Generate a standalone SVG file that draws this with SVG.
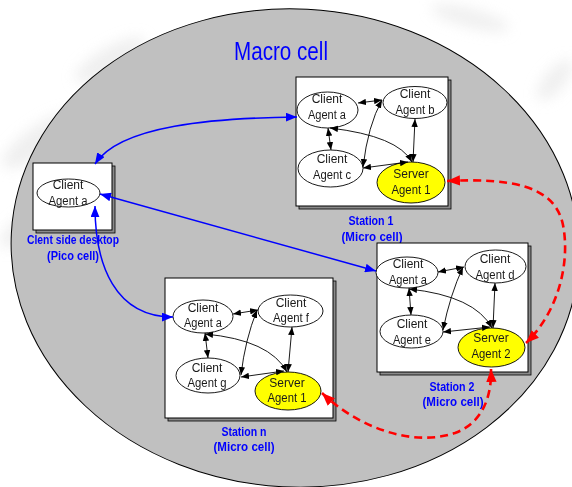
<svg xmlns="http://www.w3.org/2000/svg" width="572" height="487" viewBox="0 0 572 487">
  <style>
    .cell { fill: #c0c0c0; stroke: #000; stroke-width: 1; }
    .box { fill: #fff; stroke: #000; stroke-width: 1; }
    .side { fill: #8a8a8a; stroke: #000; stroke-width: 0.8; }
    .agent { fill: #fff; stroke: #000; stroke-width: 0.9; }
    .server { fill: #ffff00; stroke: #000; stroke-width: 0.9; }
    .t { font-family: "Liberation Sans", Arial, sans-serif; font-size: 12px; fill: #1a1a1a; text-anchor: middle; }
    .lbl { font-family: "Liberation Sans", Arial, sans-serif; font-size: 13px; font-weight: bold; fill: #0000ff; text-anchor: middle; }
    .title { font-family: "Liberation Sans", Arial, sans-serif; font-size: 25px; fill: #0000ff; text-anchor: middle; }
    .link { fill: none; stroke: #000; stroke-width: 0.9; marker-start: url(#ahk); marker-end: url(#ahk); }
    .net { fill: none; stroke: #0000ff; stroke-width: 1.5; marker-start: url(#ahb); marker-end: url(#ahb); }
    .sync { fill: none; stroke: #ff0000; stroke-width: 2.6; stroke-dasharray: 8 5; marker-start: url(#ahr); marker-end: url(#ahr); }
  </style>
  <defs>
    <marker id="ahk" viewBox="0 0 10 8" refX="10" refY="4" markerWidth="8" markerHeight="7" markerUnits="userSpaceOnUse" orient="auto-start-reverse">
      <path d="M0,0 L10,4 L0,8 z" fill="#000"/>
    </marker>
    <marker id="ahb" viewBox="0 0 10 8" refX="10" refY="4" markerWidth="11" markerHeight="9" markerUnits="userSpaceOnUse" orient="auto-start-reverse">
      <path d="M0,0 L10,4 L0,8 z" fill="#0000ff"/>
    </marker>
    <marker id="ahr" viewBox="0 0 10 8" refX="10" refY="4" markerWidth="13" markerHeight="11" markerUnits="userSpaceOnUse" orient="auto-start-reverse">
      <path d="M0,0 L10,4 L0,8 z" fill="#ff0000"/>
    </marker>
    <filter id="soft" x="-50%" y="-50%" width="200%" height="200%">
      <feGaussianBlur stdDeviation="7"/>
    </filter>
  </defs>

  <!-- page background with faint smudges -->
  <rect x="0" y="0" width="572" height="487" fill="#fff"/>
  <g filter="url(#soft)" fill="#e4e4e4" opacity="0.6">
    <ellipse cx="40" cy="140" rx="45" ry="14" transform="rotate(-35 40 140)"/>
    <ellipse cx="110" cy="60" rx="40" ry="12" transform="rotate(-30 110 60)"/>
    <ellipse cx="20" cy="230" rx="25" ry="10" transform="rotate(-40 20 230)"/>
    <ellipse cx="470" cy="18" rx="40" ry="9" transform="rotate(15 470 18)"/>
    <ellipse cx="555" cy="80" rx="25" ry="10" transform="rotate(-50 555 80)"/>
  </g>

  <!-- macro cell -->
  <g id="macro-cell">
    <ellipse class="cell" cx="295" cy="248" rx="284" ry="239" transform="rotate(3 295 248)"/>
    <text class="title" x="281" y="60" textLength="94" lengthAdjust="spacingAndGlyphs">Macro cell</text>
  </g>

  <!-- pico cell: client side desktop -->
  <g id="pico-cell">
    <rect class="side" x="36" y="166" width="79" height="67"/>
    <rect class="box" x="33" y="163" width="79" height="67"/>
    <text class="lbl" x="73" y="244" textLength="92" lengthAdjust="spacingAndGlyphs">Clent side desktop</text>
    <text class="lbl" x="73" y="260" textLength="52" lengthAdjust="spacingAndGlyphs">(Pico cell)</text>
  </g>
  <g id="pico-client-a">
    <ellipse class="agent" cx="68.5" cy="193" rx="31.5" ry="14"/>
    <text class="t" x="68" y="189">Client</text>
    <text class="t" x="68" y="205" textLength="39" lengthAdjust="spacingAndGlyphs">Agent a</text>
  </g>

  <!-- station 1 -->
  <g id="station-1">
    <rect class="side" x="299" y="80" width="152" height="129"/>
    <rect class="box" x="296" y="77" width="152" height="129"/>
    <text class="lbl" x="371" y="225" textLength="45" lengthAdjust="spacingAndGlyphs">Station 1</text>
    <text class="lbl" x="372" y="241" textLength="61" lengthAdjust="spacingAndGlyphs">(Micro cell)</text>
  </g>
  <g id="s1-client-a">
    <ellipse class="agent" cx="327.5" cy="110" rx="30.5" ry="18"/>
    <text class="t" x="327" y="103">Client</text>
    <text class="t" x="327" y="119" textLength="38" lengthAdjust="spacingAndGlyphs">Agent a</text>
  </g>
  <g id="s1-client-b">
    <ellipse class="agent" cx="415" cy="102.5" rx="32" ry="16"/>
    <text class="t" x="415" y="98">Client</text>
    <text class="t" x="415" y="114" textLength="39" lengthAdjust="spacingAndGlyphs">Agent b</text>
  </g>
  <g id="s1-client-c">
    <ellipse class="agent" cx="330.5" cy="168.5" rx="32.5" ry="18.5"/>
    <text class="t" x="332" y="163">Client</text>
    <text class="t" x="332" y="179" textLength="38" lengthAdjust="spacingAndGlyphs">Agent c</text>
  </g>
  <g id="s1-server">
    <ellipse class="server" cx="411" cy="182.5" rx="34" ry="20.5"/>
    <text class="t" x="411" y="178">Server</text>
    <text class="t" x="411" y="194" textLength="39" lengthAdjust="spacingAndGlyphs">Agent 1</text>
  </g>

  <!-- station 2 -->
  <g id="station-2">
    <rect class="side" x="380" y="246" width="151" height="129"/>
    <rect class="box" x="377" y="243" width="151" height="129"/>
    <text class="lbl" x="452" y="391" textLength="45" lengthAdjust="spacingAndGlyphs">Station 2</text>
    <text class="lbl" x="453" y="406" textLength="61" lengthAdjust="spacingAndGlyphs">(Micro cell)</text>
  </g>
  <g id="s2-client-a">
    <ellipse class="agent" cx="407" cy="272.5" rx="31" ry="15.5"/>
    <text class="t" x="408" y="268">Client</text>
    <text class="t" x="408" y="284" textLength="38" lengthAdjust="spacingAndGlyphs">Agent a</text>
  </g>
  <g id="s2-client-d">
    <ellipse class="agent" cx="495.5" cy="266.5" rx="30.5" ry="16.5"/>
    <text class="t" x="495" y="263">Client</text>
    <text class="t" x="495" y="279" textLength="39" lengthAdjust="spacingAndGlyphs">Agent d</text>
  </g>
  <g id="s2-client-e">
    <ellipse class="agent" cx="411.5" cy="331.5" rx="31.5" ry="16.5"/>
    <text class="t" x="412" y="328">Client</text>
    <text class="t" x="412" y="344" textLength="38" lengthAdjust="spacingAndGlyphs">Agent e</text>
  </g>
  <g id="s2-server">
    <ellipse class="server" cx="491.5" cy="347.5" rx="33.5" ry="19.5"/>
    <text class="t" x="491" y="342">Server</text>
    <text class="t" x="491" y="358" textLength="39" lengthAdjust="spacingAndGlyphs">Agent 2</text>
  </g>

  <!-- station n -->
  <g id="station-n">
    <rect class="side" x="168" y="281" width="168" height="140"/>
    <rect class="box" x="165" y="278" width="168" height="140"/>
    <text class="lbl" x="244" y="436" textLength="45" lengthAdjust="spacingAndGlyphs">Station n</text>
    <text class="lbl" x="244" y="451" textLength="61" lengthAdjust="spacingAndGlyphs">(Micro cell)</text>
  </g>
  <g id="sn-client-a">
    <ellipse class="agent" cx="203" cy="316.5" rx="30" ry="16.5"/>
    <text class="t" x="203" y="312">Client</text>
    <text class="t" x="203" y="327" textLength="38" lengthAdjust="spacingAndGlyphs">Agent a</text>
  </g>
  <g id="sn-client-f">
    <ellipse class="agent" cx="290.5" cy="311" rx="32.5" ry="16"/>
    <text class="t" x="291" y="307">Client</text>
    <text class="t" x="291" y="322" textLength="36" lengthAdjust="spacingAndGlyphs">Agent f</text>
  </g>
  <g id="sn-client-g">
    <ellipse class="agent" cx="208" cy="375.5" rx="32" ry="17.5"/>
    <text class="t" x="207" y="372">Client</text>
    <text class="t" x="207" y="387" textLength="39" lengthAdjust="spacingAndGlyphs">Agent g</text>
  </g>
  <g id="sn-server">
    <ellipse class="server" cx="288" cy="391" rx="33" ry="19"/>
    <text class="t" x="287" y="387">Server</text>
    <text class="t" x="287" y="402" textLength="39" lengthAdjust="spacingAndGlyphs">Agent 1</text>
  </g>

  <!-- connectors -->
  <g id="connectors">
    <!-- station 1 internal links -->
    <path class="link" d="M358,103 L382,100"/>
    <path class="link" d="M328,128 L331,150"/>
    <path class="link" d="M330,128 Q398,136 412,162"/>
    <path class="link" d="M415,119 L413,162"/>
    <path class="link" d="M382,100 Q368,125 363,167"/>
    <path class="link" d="M363,168 L408,162"/>

    <!-- station 2 internal links -->
    <path class="link" d="M438,272 L464,267"/>
    <path class="link" d="M409,288 L411,315"/>
    <path class="link" d="M409,289 Q475,296 492,328"/>
    <path class="link" d="M495,283 L493,328"/>
    <path class="link" d="M463,267 Q450,295 443,330"/>
    <path class="link" d="M443,332 L490,327"/>

    <!-- station n internal links -->
    <path class="link" d="M233,314 L258,310"/>
    <path class="link" d="M205,333 L208,358"/>
    <path class="link" d="M205,334 Q270,340 287,372"/>
    <path class="link" d="M292,327 L288,372"/>
    <path class="link" d="M257,310 Q245,340 241,375"/>
    <path class="link" d="M241,377 L284,371"/>

    <!-- desktop to micro cells -->
    <path class="net" d="M297,117 C215,118 120,125 95,164"/>
    <path class="net" d="M100,194 L376,271"/>
    <path class="net" d="M95,206 C95,265 115,317 173,317"/>

    <!-- server agent synchronisation -->
    <path class="sync" d="M447,181 C510,178 555,185 563,225 C570,260 560,310 526,343"/>
    <path class="sync" d="M322,393 C355,425 410,448 455,433 C480,424 492,400 491,369"/>
  </g>
</svg>
